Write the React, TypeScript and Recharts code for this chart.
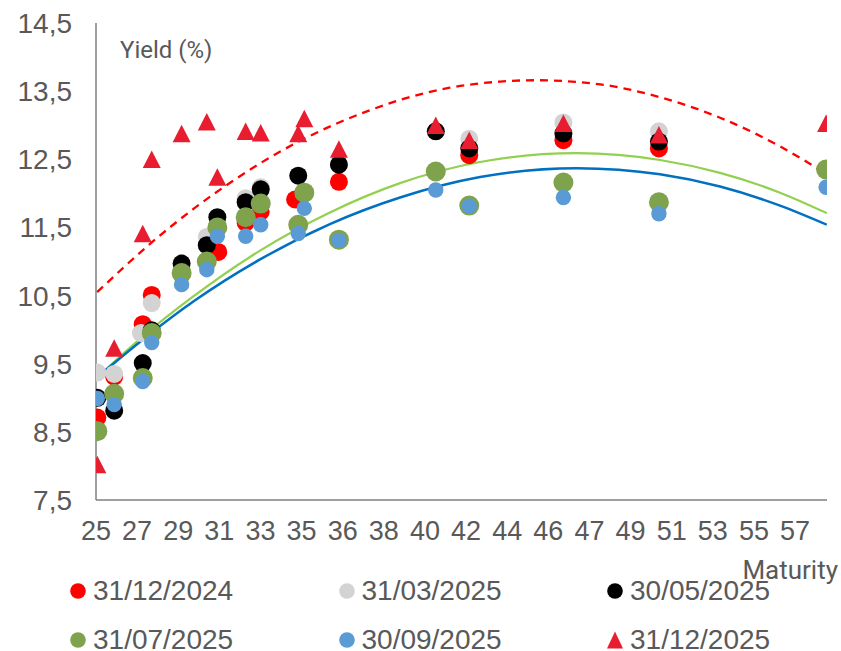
import React from 'react';
import { ComposedChart, Scatter, Line, XAxis, YAxis } from 'recharts';

// ---- axis ticks ----
const xTickLabels = ['25', '27', '29', '31', '33', '35', '36', '38', '40', '42', '44', '46', '47', '49', '51', '53', '55', '57'];
const xTickStart = 25.95;
const xTickStep = 1.83;
const xDomain: [number, number] = [25.95, 58.48];
const yTicks = [7.5, 8.5, 9.5, 10.5, 11.5, 12.5, 13.5, 14.5];
const yDomain: [number, number] = [7.5, 14.5];

// ---- series values: [maturity (year), yield %] ----
const yields_31_12_2024: [number, number][] = [
  [26.01, 8.71], [26.76, 9.31], [28.03, 10.08], [28.43, 10.51], [31.39, 11.14], [32.61, 11.57],
  [33.28, 11.73], [34.81, 11.91], [36.76, 12.17], [42.56, 12.56], [46.75, 12.78], [51.0, 12.66],
];
const yields_31_03_2025: [number, number][] = [
  [26.01, 9.37], [26.76, 9.35], [27.95, 9.95], [28.43, 10.39], [30.88, 11.36], [32.61, 11.93],
  [33.28, 12.09], [42.56, 12.8], [46.75, 13.04], [51.0, 12.91],
];
const yields_30_05_2025: [number, number][] = [
  [26.01, 9.0], [26.76, 8.81], [28.03, 9.51], [28.43, 9.99], [29.76, 10.97], [30.88, 11.24],
  [31.35, 11.65], [32.61, 11.87], [33.28, 12.06], [34.95, 12.26], [36.76, 12.42], [41.07, 12.91],
  [42.56, 12.66], [46.75, 12.88], [51.0, 12.76],
];
const yields_31_07_2025: [number, number][] = [
  [26.01, 8.51], [26.76, 9.06], [28.03, 9.29], [28.43, 9.95], [29.76, 10.83], [30.88, 11.0],
  [31.35, 11.5], [32.61, 11.65], [33.28, 11.85], [34.95, 11.54], [35.22, 12.01], [36.76, 11.32],
  [41.07, 12.32], [42.56, 11.82], [46.75, 12.16], [51.0, 11.87], [58.44, 12.35],
];
const yields_30_09_2025: [number, number][] = [
  [26.01, 8.99], [26.76, 8.9], [28.03, 9.24], [28.43, 9.81], [29.76, 10.66], [30.88, 10.88],
  [31.35, 11.37], [32.61, 11.37], [33.28, 11.54], [34.95, 11.41], [35.22, 11.78], [36.76, 11.31],
  [41.07, 12.05], [42.56, 11.81], [46.75, 11.94], [51.0, 11.7], [58.44, 12.09],
];
const yields_31_12_2025: [number, number][] = [
  [26.01, 8.02], [26.76, 9.73], [28.03, 11.41], [28.43, 12.5], [29.76, 12.88], [30.88, 13.05],
  [31.35, 12.24], [32.61, 12.91], [33.28, 12.89], [34.95, 12.88], [35.22, 13.1], [36.76, 12.65],
  [41.07, 13.0], [42.56, 12.78], [46.75, 13.03], [51.0, 12.86], [58.44, 13.03],
];

// ---- trend lines ----
const trend_31_12_2025: [number, number][] = [
  [26.0, 10.55], [28.43, 11.28], [30.36, 11.79], [32.21, 12.22], [33.25, 12.44], [35.03, 12.77],
  [38.14, 13.22], [39.48, 13.37], [41.7, 13.55], [43.93, 13.64], [45.49, 13.66], [48.38, 13.6],
  [51.05, 13.41], [53.72, 13.11], [56.39, 12.69], [58.47, 12.28],
];
const trend_31_07_2025: [number, number][] = [
  [26.0, 9.3], [28.21, 9.95], [30.13, 10.45], [33.25, 11.16], [36.36, 11.72], [39.48, 12.15],
  [43.04, 12.46], [47.35, 12.59], [51.05, 12.49], [53.72, 12.3], [56.39, 12.01], [58.47, 11.71],
];
const trend_30_09_2025: [number, number][] = [
  [26.0, 9.3], [28.21, 9.9], [30.36, 10.43], [33.25, 11.03], [36.36, 11.55], [39.48, 11.94],
  [43.04, 12.24], [47.35, 12.37], [51.05, 12.28], [53.72, 12.1], [56.39, 11.82], [58.47, 11.54],
];

const toPts = (arr: [number, number][]) => arr.map(([x, y]) => ({ x, y }));
const xTicks = xTickLabels.map((_, i) => +(xTickStart + i * xTickStep).toFixed(4));
const xFmt = (v: number) => xTickLabels[Math.round((v - xTickStart) / xTickStep)] ?? '';
const yFmt = (v: number) => v.toFixed(1).replace('.', ',');

const C_RED = '#FF0000';
const C_GRAY = '#D3D3D3';
const C_BLACK = '#000000';
const C_GREEN = '#7FA34D';
const C_BLUE = '#5B9BD5';
const C_TRI = '#E81E30';
const TEXT = '#595959';
const FONT = '"Liberation Sans", Arial, sans-serif';
const LIGHT_FONT = 'Roboto, "Liberation Sans", sans-serif';

const circle = (r: number, fill: string) => (p: any) => (
  <circle cx={p.cx} cy={p.cy} r={r} fill={fill} />
);
const triangle = (w: number, h: number, fill: string) => (p: any) => (
  <polygon
    points={`${p.cx},${p.cy - h / 2} ${p.cx - w / 2},${p.cy + h / 2} ${p.cx + w / 2},${p.cy + h / 2}`}
    fill={fill}
  />
);

const legendItems = [
  { label: '31/12/2024', color: C_RED, kind: 'circle' },
  { label: '31/03/2025', color: C_GRAY, kind: 'circle' },
  { label: '30/05/2025', color: C_BLACK, kind: 'circle' },
  { label: '31/07/2025', color: C_GREEN, kind: 'circle' },
  { label: '30/09/2025', color: C_BLUE, kind: 'circle' },
  { label: '31/12/2025', color: C_TRI, kind: 'triangle' },
];

export default function App() {
  return (
    <div style={{ position: 'absolute', left: 0, top: 0, width: 841, height: 651, background: '#fff', overflow: 'hidden' }}>
      <ComposedChart width={841} height={651} margin={{ top: 23, right: 14, bottom: 121, left: 0 }}>
        <XAxis
          type="number"
          dataKey="x"
          domain={xDomain}
          ticks={xTicks}
          interval={0}
          allowDataOverflow
          tickFormatter={xFmt}
          tickLine={false}
          axisLine={{ stroke: '#7F7F7F', strokeWidth: 1.5 }}
          tick={{ fill: TEXT, fontSize: 27, fontFamily: FONT }}
          tickMargin={15}
          height={30}
        />
        <YAxis
          type="number"
          dataKey="y"
          domain={yDomain}
          ticks={yTicks}
          interval={0}
          allowDataOverflow
          tickFormatter={yFmt}
          tickLine={false}
          axisLine={{ stroke: '#7F7F7F', strokeWidth: 1.5 }}
          tick={{ fill: TEXT, fontSize: 28, fontFamily: FONT }}
          tickMargin={18}
          width={96}
        />
        <Scatter name="31/12/2024" data={toPts(yields_31_12_2024)} dataKey="y" shape={circle(9, C_RED)} isAnimationActive={false} />
        <Scatter name="31/03/2025" data={toPts(yields_31_03_2025)} dataKey="y" shape={circle(9, C_GRAY)} isAnimationActive={false} />
        <Scatter name="30/05/2025" data={toPts(yields_30_05_2025)} dataKey="y" shape={circle(9, C_BLACK)} isAnimationActive={false} />
        <Scatter name="31/07/2025" data={toPts(yields_31_07_2025)} dataKey="y" shape={circle(10, C_GREEN)} isAnimationActive={false} />
        <Scatter name="30/09/2025" data={toPts(yields_30_09_2025)} dataKey="y" shape={circle(7.7, C_BLUE)} isAnimationActive={false} />
        <Scatter name="31/12/2025" data={toPts(yields_31_12_2025)} dataKey="y" shape={triangle(18, 17.5, C_TRI)} isAnimationActive={false} />
        <Line data={toPts(trend_31_12_2025)} dataKey="y" type="monotone" stroke="#FF0000" strokeWidth={2.3} strokeDasharray="8 6" dot={false} activeDot={false} isAnimationActive={false} legendType="none" />
        <Line data={toPts(trend_31_07_2025)} dataKey="y" type="monotone" stroke="#92D050" strokeWidth={2.2} dot={false} activeDot={false} isAnimationActive={false} legendType="none" />
        <Line data={toPts(trend_30_09_2025)} dataKey="y" type="monotone" stroke="#0070C0" strokeWidth={2.5} dot={false} activeDot={false} isAnimationActive={false} legendType="none" />
      </ComposedChart>

      <div style={{ position: 'absolute', left: 120, top: 37, fontFamily: LIGHT_FONT, fontSize: 24, lineHeight: '26px', color: TEXT, whiteSpace: 'nowrap' }}>
        Yield (%)
      </div>
      <div style={{ position: 'absolute', right: 3, top: 556, fontFamily: LIGHT_FONT, fontSize: 26, lineHeight: '28px', color: TEXT, whiteSpace: 'nowrap' }}>
        Maturity
      </div>

      {legendItems.map((it, i) => {
        const col = i % 3;
        const row = Math.floor(i / 3);
        const mx = 78 + col * 268.5;
        const cy = 591 + row * 49;
        return (
          <React.Fragment key={it.label}>
            <svg style={{ position: 'absolute', left: mx - 9, top: cy - 9 }} width={18} height={18}>
              {it.kind === 'circle' ? (
                <circle cx={9} cy={9} r={7.8} fill={it.color} />
              ) : (
                <polygon points="9,0.5 1,17.5 17,17.5" fill={it.color} />
              )}
            </svg>
            <div style={{ position: 'absolute', left: mx + 15, top: cy - 13, fontFamily: FONT, fontSize: 28, lineHeight: '26px', color: TEXT, whiteSpace: 'nowrap' }}>
              {it.label}
            </div>
          </React.Fragment>
        );
      })}
    </div>
  );
}
